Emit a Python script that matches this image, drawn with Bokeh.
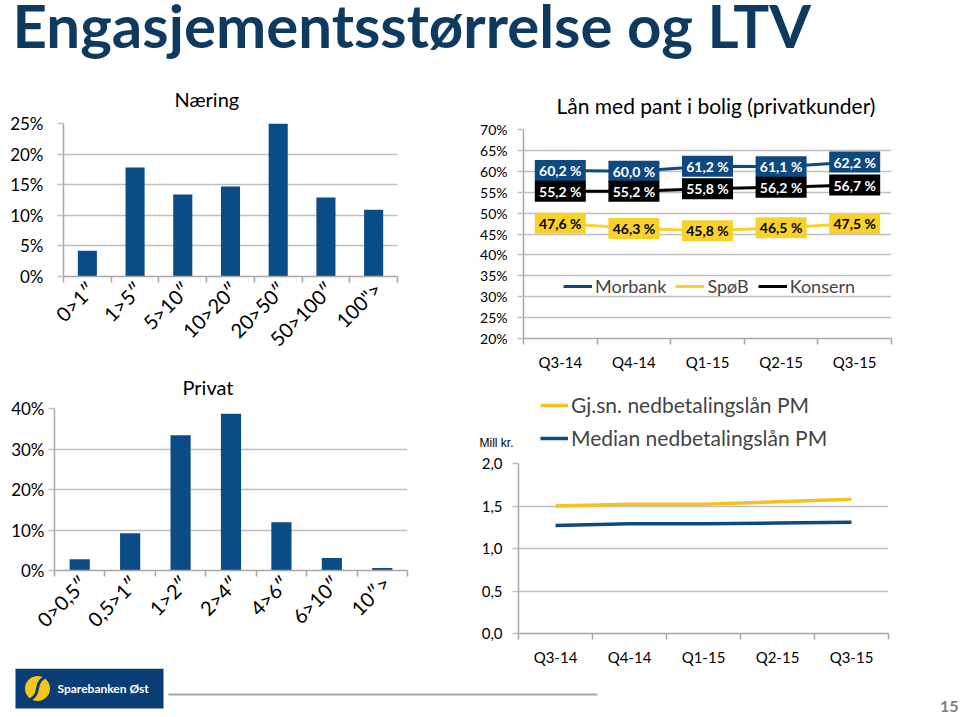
import math
from bokeh.plotting import figure
from bokeh.layouts import column, row
from bokeh.models import (Range1d, FixedTicker, PrintfTickFormatter, CustomJSTickFormatter,
                          Legend, LegendItem)
from bokeh.core.properties import value
from bokeh.embed import file_html
from bokeh.resources import INLINE

# ---------------- data ----------------
title_text = "Engasjementsstørrelse og LTV"

naering_title = "Næring"
naering_cats = ["0>1″", "1>5″", "5>10″", "10>20″", "20>50″", "50>100″", '100">']
naering_vals = [4.2, 17.8, 13.4, 14.7, 25.0, 12.9, 10.9]

privat_title = "Privat"
privat_cats = ["0>0,5″", "0,5>1″", "1>2″", "2>4″", "4>6″", "6>10″", "10″>"]
privat_vals = [2.8, 9.2, 33.4, 38.7, 11.9, 3.1, 0.6]

ltv_title = "Lån med pant i bolig (privatkunder)"
quarters = ["Q3-14", "Q4-14", "Q1-15", "Q2-15", "Q3-15"]
morbank = [60.2, 60.0, 61.2, 61.1, 62.2]
spob = [47.6, 46.3, 45.8, 46.5, 47.5]
konsern = [55.2, 55.2, 55.8, 56.2, 56.7]

loan_unit = "Mill kr."
gjsn_label = "Gj.sn. nedbetalingslån PM"
median_label = "Median nedbetalingslån PM"
gjsn = [1.50, 1.52, 1.52, 1.55, 1.58]
median = [1.27, 1.29, 1.29, 1.30, 1.31]

# ---------------- style ----------------
FONT = "Lato"
BAR = "#0B4C86"
MORB = "#0E4A80"
SPOB = "#F8D12A"
KONS = "#000000"
GJSN = "#F4C11F"
MED = "#0F4A7E"
GRID = "#BFBFBF"
AXIS = "#A6A6A6"
TITLE_COLOR = "#0D3A5E"


def strip_fig(w, h):
    p = figure(width=w, height=h, x_range=Range1d(0, w), y_range=Range1d(h, 0),
               x_axis_type=None, y_axis_type=None, output_backend="svg", toolbar_location=None,
               min_border_left=0, min_border_right=0, min_border_top=0, min_border_bottom=0)
    p.outline_line_color = None
    p.grid.visible = False
    return p


def base_fig(w, h, xr, yr, bl, br, bt, bb, title=None):
    p = figure(width=w, height=h, x_range=xr, y_range=yr, output_backend="svg",
               toolbar_location=None, min_border_left=bl, min_border_right=br,
               min_border_top=bt, min_border_bottom=bb, title=title)
    p.outline_line_color = None
    p.background_fill_color = "white"
    p.border_fill_color = "white"
    return p


def style_axes(p, n, labels, yticks, yfmt, xfont, yfont, ystandoff, xstandoff,
               rotate=False, label_shift=0.0):
    xs = [i + 0.5 for i in range(n)]
    xt = FixedTicker(ticks=[x + label_shift for x in xs], minor_ticks=list(range(n + 1)))
    p.xaxis.ticker = xt
    p.xaxis.formatter = CustomJSTickFormatter(
        args=dict(labels=labels),
        code="const i = Math.floor(tick); return (i >= 0 && i < labels.length) ? labels[i] : '';")
    p.xaxis.major_tick_out = 0
    p.xaxis.major_tick_in = 0
    p.xaxis.minor_tick_out = 6
    p.xaxis.minor_tick_in = 0
    p.xaxis.minor_tick_line_color = AXIS
    p.xaxis.minor_tick_line_width = 1.5
    p.xaxis.axis_line_color = AXIS
    p.xaxis.axis_line_width = 1.5
    p.xaxis.major_label_text_font = FONT
    p.xaxis.major_label_text_font_size = xfont
    p.xaxis.major_label_text_color = "#000000"
    p.xaxis.major_label_standoff = xstandoff
    if rotate:
        p.xaxis.major_label_orientation = math.pi / 4
    yt = FixedTicker(ticks=yticks)
    p.yaxis.ticker = yt
    p.ygrid.ticker = yt
    p.yaxis.formatter = yfmt
    p.yaxis.major_tick_out = 6
    p.yaxis.major_tick_in = 0
    p.yaxis.major_tick_line_color = GRID
    p.yaxis.major_tick_line_width = 1.5
    p.yaxis.minor_tick_line_color = None
    p.yaxis.axis_line_color = AXIS
    p.yaxis.axis_line_width = 1.5
    p.yaxis.major_label_text_font = FONT
    p.yaxis.major_label_text_font_size = yfont
    p.yaxis.major_label_text_color = "#000000"
    p.yaxis.major_label_standoff = ystandoff
    p.xgrid.visible = False
    p.ygrid.grid_line_color = GRID
    p.ygrid.grid_line_width = 1.5
    return xs


def style_title(p, offset, size, standoff):
    p.title.align = "left"
    p.title.offset = offset
    p.title.standoff = standoff
    p.title.text_font = FONT
    p.title.text_font_style = "normal"
    p.title.text_font_size = size
    p.title.text_color = "#000000"


# ---------------- title strip ----------------
pt = strip_fig(960, 62)
pt.text(x=[12], y=[24], text=[title_text], text_font=value(FONT), text_font_style="bold",
        text_font_size="60px", text_color=TITLE_COLOR, text_baseline="middle")

# ---------------- Næring ----------------
pa = base_fig(460, 300, Range1d(0, len(naering_cats)), Range1d(0, 25), 63, 63, 61, 86, naering_title)
style_title(pa, 111, "20px", 25)
xa = style_axes(pa, len(naering_cats), naering_cats, list(range(0, 26, 5)),
                PrintfTickFormatter(format="%d%%"), "20px", "17px", 14, 3,
                rotate=True, label_shift=0.08)
pa.vbar(x=xa, top=naering_vals, width=0.4, fill_color=BAR, line_color=None)

# ---------------- Privat ----------------
pb = base_fig(460, 306, Range1d(0, len(privat_cats)), Range1d(0, 40), 54, 53, 44, 98, privat_title)
style_title(pb, 128, "20px", 20)
xb = style_axes(pb, len(privat_cats), privat_cats, list(range(0, 41, 10)),
                PrintfTickFormatter(format="%d%%"), "20px", "17px", 4, 3,
                rotate=True, label_shift=0.08)
pb.vbar(x=xb, top=privat_vals, width=0.4, fill_color=BAR, line_color=None)

# ---------------- LTV ----------------
pc = base_fig(500, 323, Range1d(0, len(quarters)), Range1d(20, 70), 63, 69, 67, 47, ltv_title)
style_title(pc, 33, "21px", 24)
xc = style_axes(pc, len(quarters), quarters, list(range(20, 71, 5)),
                PrintfTickFormatter(format="%d%%"), "15px", "14px", 10, 8)
r_m = pc.line(xc, morbank, line_color=MORB, line_width=3)
r_s = pc.line(xc, spob, line_color=SPOB, line_width=3)
r_k = pc.line(xc, konsern, line_color=KONS, line_width=3)
for vals, fill, tcol in [(morbank, MORB, "white"), (konsern, KONS, "white"), (spob, SPOB, "black")]:
    pc.rect(x=xc, y=vals, width=51, height=21, width_units="screen", height_units="screen",
            fill_color=fill, line_color=None)
    pc.text(x=xc, y=vals, text=[("%.1f %%" % v).replace(".", ",") for v in vals],
            text_align="center", text_baseline="middle", text_font=value(FONT),
            text_font_style="bold", text_font_size="14px", text_color=tcol)
leg_c = Legend(items=[LegendItem(label="Morbank", renderers=[r_m]),
                      LegendItem(label="SpøB", renderers=[r_s]),
                      LegendItem(label="Konsern", renderers=[r_k])],
               orientation="horizontal", location=(40, 41))
leg_c.label_text_font = FONT
leg_c.label_text_font_size = "18px"
leg_c.glyph_width = 29
leg_c.glyph_height = 20
leg_c.label_height = 20
leg_c.label_standoff = 3
leg_c.spacing = 9
leg_c.padding = 0
leg_c.margin = 0
leg_c.border_line_color = None
leg_c.background_fill_alpha = 0
pc.add_layout(leg_c)

# ---------------- loan size: legend header ----------------
ph = strip_fig(500, 65)
# legend proxies (kept out of view); the plotted series are drawn in the chart below
lg_g = ph.line(x=[-100, -90], y=[-100, -100], line_color=GJSN, line_width=3.5)
lg_d = ph.line(x=[-100, -90], y=[-100, -100], line_color=MED, line_width=3.5)
leg_d = Legend(items=[LegendItem(label=gjsn_label, renderers=[lg_g]),
                      LegendItem(label=median_label, renderers=[lg_d])],
               orientation="vertical", location=(80, 0))
leg_d.label_text_font = FONT
leg_d.label_text_font_size = "21px"
leg_d.glyph_width = 28
leg_d.glyph_height = 20
leg_d.label_height = 20
leg_d.label_standoff = 3
leg_d.spacing = 8
leg_d.padding = 0
leg_d.margin = 0
leg_d.border_line_color = None
leg_d.background_fill_alpha = 0
ph.add_layout(leg_d)
ph.text(x=[53], y=[57], text=[loan_unit], text_align="right", text_baseline="middle",
        text_font=value("Liberation Sans"), text_font_size="12px", text_color="#000000")

# ---------------- loan size chart ----------------
pd_ = base_fig(500, 218, Range1d(0, len(quarters)), Range1d(0, 2), 58, 72, 13, 30)
xd = style_axes(pd_, len(quarters), quarters, [0, 0.5, 1.0, 1.5, 2.0],
                CustomJSTickFormatter(code="return tick.toFixed(1).replace('.', ',');"),
                "15px", "15px", 10, 8)
pd_.line(xd, gjsn, line_color=GJSN, line_width=3.5)
pd_.line(xd, median, line_color=MED, line_width=3.5)

# ---------------- footer ----------------
pf = strip_fig(960, 49)
pf.quad(left=[15], right=[163], top=[0], bottom=[40], fill_color="#0A3D75", line_color=None)
pf.circle(x=[37], y=[20], radius=12.5, fill_color="#F5C518", line_color=None)
pf.bezier(x0=[30], y0=[31], x1=[44], y1=[9], cx0=[41], cy0=[25], cx1=[33], cy1=[15],
          line_color="#0A3D75", line_width=3)
pf.text(x=[57], y=[20], text=["Sparebanken Øst"], text_font=value(FONT), text_font_style="bold",
        text_font_size="12px", text_color="white", text_baseline="middle")
pf.segment(x0=[168], y0=[26], x1=[597], y1=[26], line_color="#A6A6A6", line_width=2)
pf.text(x=[958], y=[38], text=["15"], text_font=value(FONT), text_font_style="bold",
        text_font_size="16px", text_color="#7F7F7F", text_align="right", text_baseline="middle")

# each chart wrapped in its own row so that the column does not align their frames
left_col = column(row(pa), row(pb))
right_col = column(row(pc), row(ph), row(pd_))
layout = column(pt, row(left_col, right_col), pf)

with open("out.html", "w") as f:
    f.write(file_html(layout, INLINE))
